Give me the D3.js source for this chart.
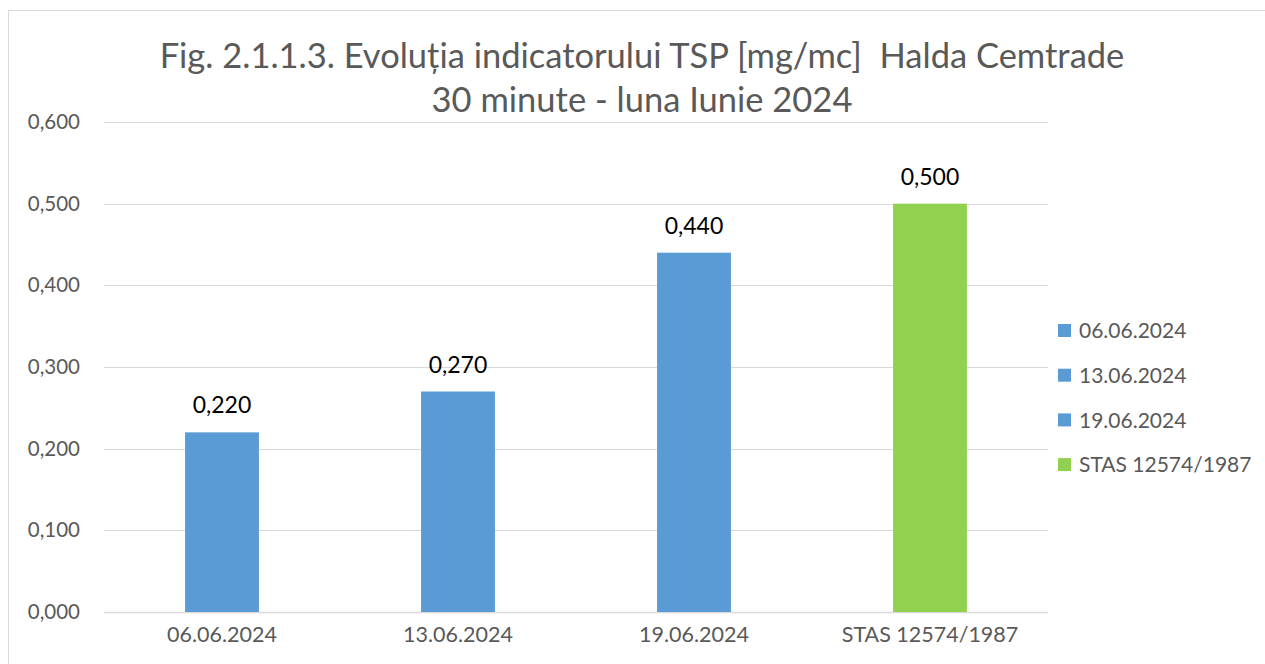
<!DOCTYPE html>
<html>
<head>
<meta charset="utf-8">
<script src="https://cdn.jsdelivr.net/npm/d3@7"></script>
<style>
  body { margin: 0; background: #fff; }
  svg text { font-family: Lato, "Open Sans", sans-serif; white-space: pre; }
</style>
</head>
<body>
<div id="fig"></div>
<script>
var categories = ["06.06.2024", "13.06.2024", "19.06.2024", "STAS 12574/1987"];
var values = [0.220, 0.270, 0.440, 0.500];
var barColors = ["#5B9BD5", "#5B9BD5", "#5B9BD5", "#92D050"];
var yTicks = [0, 0.1, 0.2, 0.3, 0.4, 0.5, 0.6];
var titleLines = ["Fig. 2.1.1.3. Evoluția indicatorului TSP [mg/mc]  Halda Cemtrade", "30 minute - luna Iunie 2024"];

var W = 1265, H = 664;
var fmt = function(v) { return d3.format(".3f")(v).replace(".", ","); };

var svg = d3.select("#fig").append("svg")
    .attr("width", W)
    .attr("height", H);

// chart border
svg.append("rect")
    .attr("x", 8.5).attr("y", 10.5)
    .attr("width", W + 20).attr("height", H + 20)
    .attr("fill", "none")
    .attr("stroke", "#d9d9d9");

var plot = { left: 104, right: 1048, top: 122, bottom: 612 };

var x = d3.scaleBand()
    .domain(categories)
    .range([plot.left, plot.right])
    .paddingInner(0.687)
    .paddingOuter(0.3435);

var y = d3.scaleLinear()
    .domain([0, 0.6])
    .range([plot.bottom, plot.top]);

// gridlines
svg.append("g")
  .selectAll("line")
  .data(yTicks)
  .join("line")
    .attr("x1", plot.left).attr("x2", plot.right)
    .attr("y1", function(d) { return Math.round(y(d)) + 0.5; })
    .attr("y2", function(d) { return Math.round(y(d)) + 0.5; })
    .attr("stroke", "#d9d9d9")
    .attr("stroke-width", function(d) { return d === 0 ? 1.5 : 1; });

// y axis labels
var yAxis = svg.append("g")
    .attr("transform", "translate(" + (plot.left - 21) + ",0)")
    .call(d3.axisLeft(y).tickValues(yTicks).tickFormat(fmt).tickSize(0));
yAxis.select(".domain").remove();
yAxis.selectAll("text")
    .attr("fill", "#595959")
    .style("font-size", "20.5px");

// x axis labels
var xAxis = svg.append("g")
    .attr("transform", "translate(0," + (plot.bottom + 12) + ")")
    .call(d3.axisBottom(x).tickSize(0));
xAxis.select(".domain").remove();
xAxis.selectAll("text")
    .attr("fill", "#595959")
    .style("font-size", "21.5px");

// bars
svg.append("g")
  .selectAll("rect")
  .data(values)
  .join("rect")
    .attr("x", function(d, i) { return x(categories[i]); })
    .attr("y", function(d) { return y(d); })
    .attr("width", x.bandwidth())
    .attr("height", function(d) { return y(0) - y(d); })
    .attr("fill", function(d, i) { return barColors[i]; });

// value labels
svg.append("g")
  .selectAll("text")
  .data(values)
  .join("text")
    .attr("x", function(d, i) { return x(categories[i]) + x.bandwidth() / 2; })
    .attr("y", function(d) { return y(d) - 19; })
    .attr("text-anchor", "middle")
    .attr("fill", "#000")
    .style("font-size", "23px")
    .text(fmt);

// title
svg.append("g")
  .selectAll("text")
  .data(titleLines)
  .join("text")
    .attr("x", 642)
    .attr("y", function(d, i) { return 68 + i * 44; })
    .attr("text-anchor", "middle")
    .attr("fill", "#595959")
    .style("font-size", "34.5px")
    .text(function(d) { return d; });

// legend
var legend = svg.append("g")
  .selectAll("g")
  .data(categories)
  .join("g")
    .attr("transform", function(d, i) { return "translate(1058," + (331 + i * 44.7) + ")"; });
legend.append("rect")
    .attr("x", 0).attr("y", -7)
    .attr("width", 13).attr("height", 13)
    .attr("fill", function(d, i) { return barColors[i]; });
legend.append("text")
    .attr("x", 21).attr("y", 0)
    .attr("dy", "0.35em")
    .attr("fill", "#595959")
    .style("font-size", "21px")
    .text(function(d) { return d; });
</script>
</body>
</html>
